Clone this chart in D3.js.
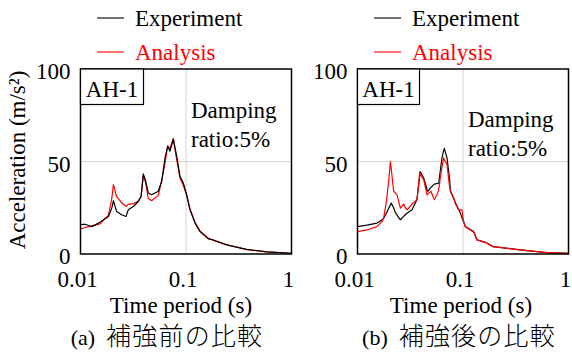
<!DOCTYPE html>
<html>
<head>
<meta charset="utf-8">
<script src="https://cdn.jsdelivr.net/npm/d3@7/dist/d3.min.js"></script>
<style>
  html, body { margin: 0; padding: 0; background: #fff; }
  svg { display: block; }
  text { font-family: "Liberation Serif", "Times New Roman", serif; fill: #000; }
  .cjk { font-family: "Noto Sans CJK JP", "Noto Sans CJK SC", sans-serif; font-weight: 300; }
</style>
</head>
<body>
<svg id="chart" width="572" height="356"></svg>
<script>
// Response spectra (5% damping), acceleration in m/s^2 against period in s

// (a) before strengthening
const periodsA = [0.010, 0.011, 0.0128, 0.0153, 0.0184, 0.0198, 0.0205, 0.0220, 0.0246, 0.0270,
  0.0284, 0.0317, 0.0353, 0.0375, 0.0394, 0.0415, 0.0439, 0.0473, 0.0546, 0.0589,
  0.0632, 0.0671, 0.0705, 0.0758, 0.0816, 0.0877, 0.0943, 0.1015, 0.109, 0.1217,
  0.1358, 0.1627, 0.1814, 0.2431, 0.3763, 0.582, 1.0];
const experimentA = [15.8, 16.1, 14.8, 17.2, 20.3, 24.8, 28.8, 23.0, 21.2, 20.3,
  23.9, 25.7, 28.4, 31.1, 43.3, 39.3, 33.0, 32.0, 33.9, 39.3,
  52.0, 58.3, 55.6, 62.0, 52.9, 42.0, 38.4, 32.0, 23.9, 16.7,
  12.1, 8.2, 7.6, 4.9, 2.5, 1.2, 0.4];
const analysisA = [13.6, 14.2, 15.2, 16.3, 21.0, 30.0, 37.5, 31.0, 27.7, 25.7,
  26.8, 27.2, 28.6, 31.0, 42.5, 38.5, 30.0, 28.8, 31.7, 40.0,
  49.0, 58.3, 57.0, 62.5, 51.0, 41.0, 37.0, 31.7, 24.6, 17.2,
  12.4, 8.5, 7.4, 5.0, 2.4, 1.1, 0.4];

// (b) after strengthening
const periodsB = [0.010, 0.0123, 0.0153, 0.0171, 0.0177, 0.0188, 0.0198, 0.0205, 0.0209, 0.0220,
  0.0228, 0.0237, 0.0255, 0.0274, 0.0284, 0.0295, 0.0329, 0.0366, 0.0389, 0.0394,
  0.0424, 0.0456, 0.0463, 0.0497, 0.0528, 0.0535, 0.0576, 0.0589, 0.0609, 0.0632,
  0.0656, 0.0665, 0.0705, 0.0748, 0.0759, 0.0816, 0.0845, 0.0910, 0.0943, 0.0978,
  0.1015, 0.1051, 0.1263, 0.1358, 0.1627, 0.1925, 0.3467, 0.621, 1.0];
const experimentB = [14.8, 15.6, 16.7, 18.5, 19.4, 22.0, 24.8, 26.5, 27.5, 25.0,
  22.6, 21.0, 18.5, 20.3, 21.2, 22.0, 23.9, 29.3, 42.0, 44.4,
  41.1, 35.0, 33.9, 36.0, 37.5, 37.8, 38.2, 38.4, 45.0, 52.0,
  56.0, 57.1, 52.0, 40.0, 33.9, 30.0, 27.5, 24.0, 22.1, 19.5,
  17.6, 14.8, 12.1, 7.6, 6.3, 4.0, 2.2, 0.7, 0.3];
const analysisB = [12.1, 13.0, 14.8, 17.6, 19.5, 28.4, 40.0, 49.8, 46.0, 33.9,
  33.0, 32.0, 24.8, 27.0, 25.0, 23.9, 27.0, 29.3, 44.4, 43.0,
  40.2, 32.0, 32.5, 33.9, 30.0, 29.3, 33.0, 35.0, 41.1, 47.0,
  52.0, 51.0, 48.4, 35.7, 34.5, 30.3, 28.0, 23.9, 23.9, 23.9,
  17.0, 14.8, 11.8, 7.6, 6.3, 4.0, 2.2, 0.7, 0.3];

const xTicks = [0.01, 0.1, 1];
const xTickLabels = ["0.01", "0.1", "1"];
const yTicks = [0, 50, 100];
const seriesNames = ["Experiment", "Analysis"];
const seriesColors = ["#000000", "#ff0000"];
const specimen = "AH-1";
const noteLines = ["Damping", "ratio:5%"];
const xTitle = "Time period (s)";
const yTitle = "Acceleration (m/s²)";

const panels = [
  { left: 80.5, periods: periodsA, exp: experimentA, ana: analysisA, redOnTop: false,
    tag: "(a)", caption: "補強前の比較", noteY: 118, boxW: 63, titleX: 181, captionX: 167 },
  { left: 357.5, periods: periodsB, exp: experimentB, ana: analysisB, redOnTop: true,
    tag: "(b)", caption: "補強後の比較", noteY: 127, boxW: 62, titleX: 461, captionX: 459 }
];

const plotW = 211, plotTop = 69, plotBottom = 254;
const svg = d3.select("#chart");
const FS = 23;

panels.forEach(p => {
  const x = d3.scaleLog().domain([0.01, 1]).range([p.left, p.left + plotW]);
  const y = d3.scaleLinear().domain([0, 100]).range([plotBottom, plotTop]);
  const g = svg.append("g");

  // grid
  g.append("line").attr("x1", x(0.1)).attr("x2", x(0.1)).attr("y1", plotTop).attr("y2", plotBottom)
    .attr("stroke", "#d4d4d4").attr("stroke-width", 1);
  g.append("line").attr("x1", p.left).attr("x2", p.left + plotW).attr("y1", y(50)).attr("y2", y(50))
    .attr("stroke", "#d4d4d4").attr("stroke-width", 1);

  // curves
  const line = d3.line().x((d, i) => x(p.periods[i])).y(d => y(d));
  const order = p.redOnTop ? [[p.exp, 0], [p.ana, 1]] : [[p.ana, 1], [p.exp, 0]];
  order.forEach(([vals, k]) => {
    g.append("path").datum(vals).attr("d", line)
      .attr("fill", "none").attr("stroke", seriesColors[k]).attr("stroke-width", 1.2)
      .attr("stroke-linejoin", "round");
  });

  // frame
  g.append("rect").attr("x", p.left).attr("y", plotTop).attr("width", plotW).attr("height", plotBottom - plotTop)
    .attr("fill", "none").attr("stroke", "#000").attr("stroke-width", 1.5);

  // x tick labels
  xTicks.forEach((t, i) => {
    g.append("text").attr("x", x(t) - 3).attr("y", plotBottom + 33).attr("text-anchor", "middle")
      .attr("font-size", FS).text(xTickLabels[i]);
  });
  // y tick labels
  yTicks.forEach(t => {
    g.append("text").attr("x", p.left - 10).attr("y", y(t) + 10).attr("text-anchor", "end")
      .attr("font-size", FS).text(t);
  });

  // specimen box
  g.append("rect").attr("x", p.left).attr("y", plotTop).attr("width", p.boxW).attr("height", 35.5)
    .attr("fill", "#fff").attr("stroke", "#000").attr("stroke-width", 1.2);
  g.append("text").attr("x", p.left + p.boxW / 2).attr("y", plotTop + 27.5).attr("text-anchor", "middle")
    .attr("font-size", FS).text(specimen);

  // damping note
  noteLines.forEach((s, i) => {
    g.append("text").attr("x", x(0.1) + 5).attr("y", p.noteY + i * 28.5)
      .attr("font-size", FS).text(s);
  });

  // x title + caption
  g.append("text").attr("x", p.titleX).attr("y", 313).attr("text-anchor", "middle")
    .attr("font-size", FS).text(xTitle);
  const cap = g.append("text").attr("x", p.captionX).attr("y", 345).attr("text-anchor", "middle");
  cap.append("tspan").attr("font-size", 22).text(p.tag + "\u00a0\u00a0");
  cap.append("tspan").attr("class", "cjk").attr("font-size", 25).attr("letter-spacing", 1.2).text(p.caption);

  // legend
  const lx = p.left + 16.5;
  seriesNames.forEach((n, i) => {
    const ly = 18 + i * 34;
    g.append("line").attr("x1", lx).attr("x2", lx + 27).attr("y1", ly).attr("y2", ly)
      .attr("stroke", seriesColors[i]).attr("stroke-width", 1.1);
    g.append("text").attr("x", lx + 38).attr("y", ly + 8).attr("font-size", FS)
      .style("fill", seriesColors[i]).text(n);
  });
});

// y axis title
svg.append("text").attr("transform", "translate(25,160) rotate(-90)")
  .attr("text-anchor", "middle").attr("font-size", FS).text(yTitle);
</script>
</body>
</html>
